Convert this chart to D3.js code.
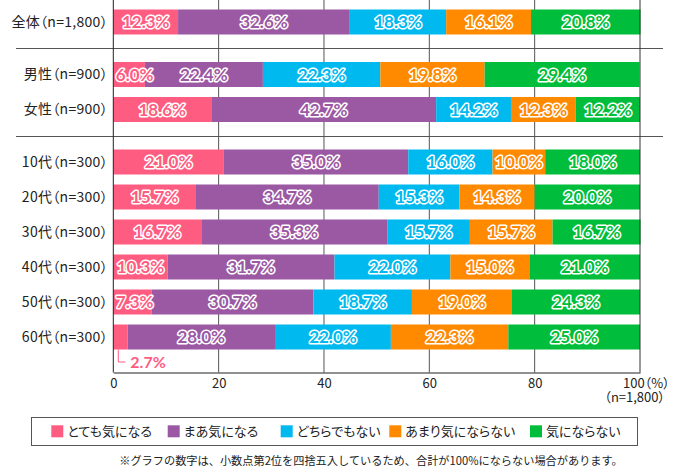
<!DOCTYPE html>
<html><head><meta charset="utf-8">
<script src="https://cdn.jsdelivr.net/npm/d3@7"></script>
<style>
html,body{margin:0;padding:0;background:#fff;}
svg{display:block;}
.jp{font-family:"Noto Sans CJK JP","Noto Sans",sans-serif;}
.palt{font-feature-settings:"palt";}
.val{font-family:Lato,"Open Sans",sans-serif;font-weight:700;}
</style>
</head><body>
<svg id="chart" width="680" height="467"></svg>
<script>
// ---- data ----
const categories = ["全体（n=1,800）","男性（n=900）","女性（n=900）","10代（n=300）","20代（n=300）","30代（n=300）","40代（n=300）","50代（n=300）","60代（n=300）"];
const groups = [0,1,1,2,2,2,2,2,2];
const seriesNames = ["とても気になる","まあ気になる","どちらでもない","あまり気にならない","気にならない"];
const veryConcerned   = [12.3, 6.0, 18.6, 21.0, 15.7, 16.7, 10.3, 7.3, 2.7];
const somewhat        = [32.6, 22.4, 42.7, 35.0, 34.7, 35.3, 31.7, 30.7, 28.0];
const neither         = [18.3, 22.3, 14.2, 16.0, 15.3, 15.7, 22.0, 18.7, 22.0];
const notMuch         = [16.1, 19.8, 12.3, 10.0, 14.3, 15.7, 15.0, 19.0, 22.3];
const notAtAll        = [20.8, 29.4, 12.2, 18.0, 20.0, 16.7, 21.0, 24.3, 25.0];
const seriesValues = [veryConcerned, somewhat, neither, notMuch, notAtAll];
const colors = ["#ff5c82","#9b59a4","#00b9ef","#ff8a00","#00be3b"];
const xTicks = [0,20,40,60,80,100];
const footnote = "※グラフの数字は、小数点第2位を四捨五入しているため、合計が100%にならない場合があります。";

// ---- layout ----
const svg = d3.select("#chart");
const plotL = 113.3, plotR = 640, plotT = 0, plotB = 372.5;
const x = d3.scaleLinear().domain([0,100]).range([plotL,plotR]);
const rowPos = categories.map((c,i)=> i + 0.5*groups[i]);
const y = d3.scaleLinear().domain([0,10]).range([22,372]);
const barH = 25;

// gridlines
svg.append("g").selectAll("line").data(xTicks.slice(1,-1)).join("line")
  .attr("x1",d=>x(d)).attr("x2",d=>x(d)).attr("y1",plotT).attr("y2",plotB)
  .attr("stroke","#555").attr("stroke-width",1);

// separators
const seps = [];
for (let i=1;i<categories.length;i++) if (groups[i]!==groups[i-1]) seps.push((rowPos[i]+rowPos[i-1])/2);
svg.append("g").selectAll("line").data(seps).join("line")
  .attr("x1",16).attr("x2",663).attr("y1",d=>Math.round(y(d))+0.5).attr("y2",d=>Math.round(y(d))+0.5)
  .attr("stroke","#555").attr("stroke-width",1);

// stacked data
const rows = categories.map((c,i)=>{
  let acc=0;
  return seriesValues.map((s,k)=>{ const d={row:i,k,v:s[i],x0:acc,x1:acc+s[i]}; acc+=s[i]; return d; });
});
const segs = rows.flat();

svg.append("g").selectAll("rect").data(segs).join("rect")
  .attr("x",d=>x(d.x0)).attr("width",d=>x(d.x1)-x(d.x0))
  .attr("y",d=>y(rowPos[d.row])-barH/2).attr("height",barH)
  .attr("fill",d=>colors[d.k]);

// frame lines
svg.append("line").attr("x1",x(100)).attr("x2",x(100)).attr("y1",plotT).attr("y2",plotB).attr("stroke","#333");
svg.append("line").attr("x1",x(0)).attr("x2",x(0)).attr("y1",plotT).attr("y2",plotB).attr("stroke","#222");

// x axis
const lastTick = xTicks[xTicks.length-1];
const ax = svg.append("g").attr("transform",`translate(0,${plotB})`)
  .call(d3.axisBottom(x).tickValues(xTicks).tickSize(0).tickPadding(6)
    .tickFormat(d=> d===lastTick ? "" : d3.format("d")(d)));
ax.select(".domain").attr("stroke","#222");
ax.selectAll("text").attr("class","jp palt").style("font-size","13px").attr("fill","#222");
// last tick label with unit and sample size (two lines, one text element)
const unitText = svg.append("text").attr("class","jp palt").style("font-size","13px").attr("fill","#222");
unitText.append("tspan").attr("x",x(lastTick)-17).attr("y",plotB+6).attr("dy","0.71em")
  .text(lastTick+"（%）");
unitText.append("tspan").attr("x",665).attr("y",plotB+20.5).attr("dy","0.71em")
  .attr("text-anchor","end").text("（n=1,800）");

// category labels
svg.append("g").selectAll("text").data(categories).join("text")
  .attr("class","jp palt").attr("x",108).attr("y",(d,i)=>y(rowPos[i])).attr("dy","0.35em")
  .attr("text-anchor","end").style("font-size","14px").style("letter-spacing","0.3px")
  .attr("fill","#222").text(d=>d);

// value labels
const fmt = d=>d.toFixed(1)+"%";
const inside = segs.filter(d=>d.v>=5);
const vl = svg.append("g").selectAll("text").data(inside).join("text")
  .attr("class","val").style("font-size","17px")
  .attr("y",d=>y(rowPos[d.row])).attr("dy","0.36em")
  .attr("fill",d=>colors[d.k]).attr("stroke","#fff").attr("stroke-width",3)
  .attr("stroke-linejoin","round").style("paint-order","stroke")
  .text(d=>fmt(d.v));
vl.each(function(d){
  const w = this.getComputedTextLength();
  const c = (x(d.x0)+x(d.x1))/2;
  const minStart = x(d.x0)+2.5;
  if (c - w/2 < minStart) d3.select(this).attr("x",minStart).attr("text-anchor","start");
  else d3.select(this).attr("x",c).attr("text-anchor","middle");
});

// small segments annotated below
const small = segs.filter(d=>d.v<5);
small.forEach(d=>{
  const by = y(rowPos[d.row])+barH/2;
  const lx = x(d.x0)+5;
  svg.append("path").attr("d",`M${lx},${by}V${by+12.5}H${lx+7}`)
    .attr("fill","none").attr("stroke",colors[d.k]).attr("stroke-width",1);
  svg.append("text").attr("class","val").style("font-size","16px")
    .attr("x",lx+12).attr("y",by+18).attr("fill",colors[d.k]).text(fmt(d.v));
});

// legend
svg.append("rect").attr("x",31.5).attr("y",417.5).attr("width",606).attr("height",28)
  .attr("fill","#fff").attr("stroke","#555").attr("stroke-width",1);
const legX = [51.3,167.7,280.7,389.3,530];
const lg = svg.append("g").selectAll("g").data(seriesNames).join("g")
  .attr("transform",(d,i)=>`translate(${legX[i]},425.3)`);
lg.append("rect").attr("width",12).attr("height",12).attr("fill",(d,i)=>colors[i]);
lg.append("text").attr("class","jp palt").attr("x",16).attr("y",6).attr("dy","0.36em")
  .style("font-size","13px").attr("fill","#222").text(d=>d);

// footnote
svg.append("text").attr("class","jp").attr("x",371).attr("y",461).attr("dy","0.32em")
  .attr("text-anchor","middle").style("font-size","11.2px").attr("fill","#222").text(footnote);
</script>
</body></html>
